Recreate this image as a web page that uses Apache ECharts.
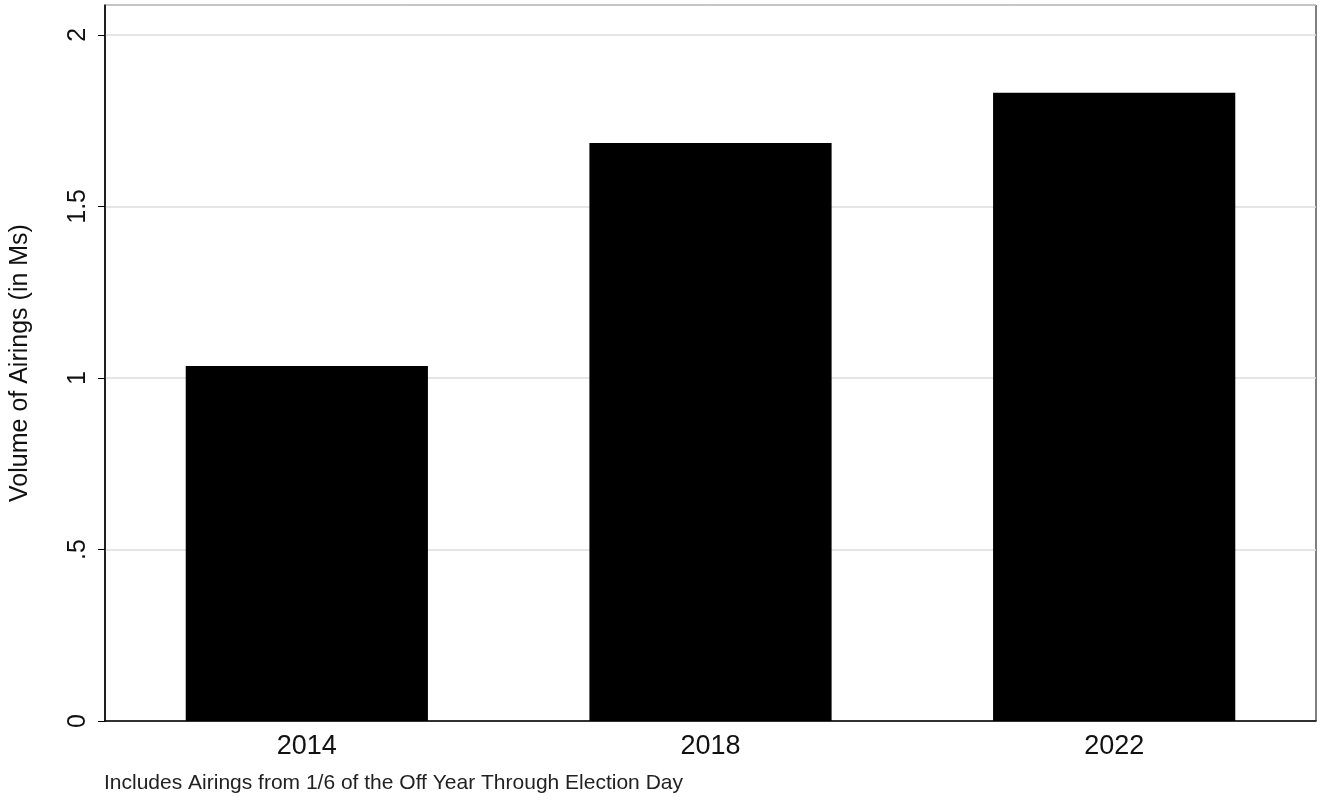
<!DOCTYPE html>
<html><head><meta charset="utf-8">
<script src="https://cdn.jsdelivr.net/npm/echarts@6/dist/echarts.min.js"></script>
<style>html,body{margin:0;padding:0;background:#fff}#c{width:1328px;height:802px}</style>
</head><body><div id="c"></div>
<script>
const categories = ["2014", "2018", "2022"];
const values = [1.035, 1.685, 1.831];
const yTickLabels = {0: "0", 0.5: ".5", 1: "1", 1.5: "1.5", 2: "2"};
const chart = echarts.init(document.getElementById('c'));
chart.setOption({
  animation: false,
  backgroundColor: '#fff',
  grid: {left: 98, right: 12, top: 5, bottom: 81, show: true, borderColor: '#000', borderWidth: 1},
  graphic: [{type: 'text', left: 104, top: 773, style: {text: 'Includes Airings from 1/6 of the Off Year Through Election Day', font: '21px Arial, "Liberation Sans"', fill: '#222'}}],
  xAxis: {type: 'category', data: categories,
    axisLine: {lineStyle: {color: '#000', width: 1.5}},
    axisTick: {alignWithLabel: true, length: 6, lineStyle: {color: '#000'}},
    axisLabel: {fontSize: 27, color: '#111', fontFamily: 'Arial, "Liberation Sans"', margin: 12}},
  yAxis: {type: 'value', min: 0, max: 2.087, interval: 0.5,
    name: 'Volume of Airings (in Ms)', nameLocation: 'middle', nameGap: 72, nameRotate: 90,
    nameTextStyle: {fontSize: 25, color: '#111', fontFamily: 'Arial, "Liberation Sans"'},
    axisLine: {show: true, lineStyle: {color: '#000', width: 1.5}},
    axisTick: {show: true, length: 7, lineStyle: {color: '#000'}},
    splitLine: {lineStyle: {color: '#ddd', width: 1.5}},
    axisLabel: {fontSize: 25, color: '#111', rotate: 90, fontFamily: 'Arial, "Liberation Sans"', margin: 14,
      showMaxLabel: false,
      formatter: v => yTickLabels[v] !== undefined ? yTickLabels[v] : ''}},
  series: [{type: 'bar', data: values, barWidth: '60%', itemStyle: {color: '#000'}}]
});
</script></body></html>
